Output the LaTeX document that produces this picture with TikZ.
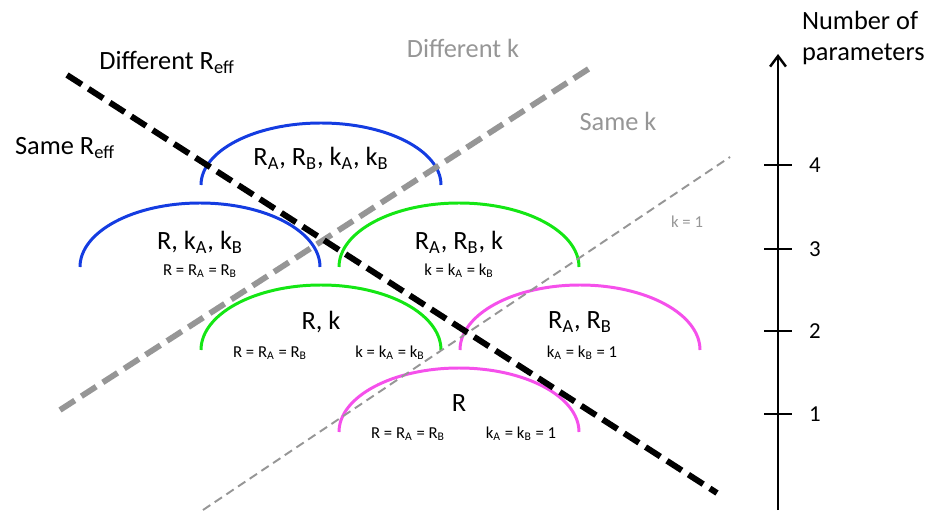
\documentclass[tikz,border=0pt]{standalone}
\usepackage{fontspec}
\setmainfont{Carlito}
\usetikzlibrary{arrows.meta}
\definecolor{arcblue}{RGB}{20,60,225}
\definecolor{arcgreen}{RGB}{20,230,20}
\definecolor{arcpink}{RGB}{245,80,235}
\definecolor{linegray}{RGB}{150,150,150}
\tikzset{
  bigtxt/.style={font=\fontsize{15}{18}\selectfont, inner sep=1pt},
  smalltxt/.style={font=\fontsize{9.5}{11}\selectfont, inner sep=1pt},
  axisnum/.style={font=\fontsize{13}{15}\selectfont, inner sep=1pt},
  levelarc/.style={line width=1.7pt},
}
\begin{document}
\begin{tikzpicture}[x=0.02cm,y=-0.02cm]
  \useasboundingbox (0,0) rectangle (926,513);
  % Arcs (one per model)
  \draw[levelarc,arcblue]  (201,185) arc[start angle=180,end angle=360,x radius=120,y radius=62];
  \draw[levelarc,arcblue]  (80,267)  arc[start angle=180,end angle=360,x radius=120,y radius=64];
  \draw[levelarc,arcgreen] (339,267) arc[start angle=180,end angle=360,x radius=120,y radius=64];
  \draw[levelarc,arcgreen] (201,350) arc[start angle=180,end angle=360,x radius=120,y radius=65];
  \draw[levelarc,arcpink]  (460,350) arc[start angle=180,end angle=360,x radius=120,y radius=65];
  \draw[levelarc,arcpink]  (339,432) arc[start angle=180,end angle=360,x radius=120,y radius=64];
  % Dividing lines
  \coordinate (reffA) at (67,75);
  \coordinate (reffB) at (717,493);
  \coordinate (kA) at (60,410);
  \coordinate (kB) at (590,68);
  \coordinate (koneA) at (203,510);
  \coordinate (koneB) at (730,157);
  \draw[linegray,line width=3.3pt,dash pattern=on 10pt off 4.5pt] (kA) -- (kB);
  \draw[linegray,line width=1.1pt,dash pattern=on 5pt off 3pt] (koneA) -- (koneB);
  \draw[black,line width=3.4pt,dash pattern=on 10pt off 4.5pt] (reffA) -- (reffB);
  % Region labels
  \node[bigtxt] (diffReff) at (167,62) {Different R\textsubscript{eff}};
  \node[bigtxt] (sameReff) at (65,148) {Same R\textsubscript{eff}};
  \node[bigtxt,linegray] (diffK) at (463,48) {Different k};
  \node[bigtxt,linegray] (sameK) at (618,121) {Same k};
  \node[smalltxt,linegray] (kOne) at (687,222) {k = 1};
  % Model labels
  \node[bigtxt] (mFour) at (321,158) {R\textsubscript{A}, R\textsubscript{B}, k\textsubscript{A}, k\textsubscript{B}};
  \node[bigtxt] (mThreeL) at (200,242) {R, k\textsubscript{A}, k\textsubscript{B}};
  \node[smalltxt] (mThreeLeq) at (200,271) {R = R\textsubscript{A} = R\textsubscript{B}};
  \node[bigtxt] (mThreeR) at (459,242) {R\textsubscript{A}, R\textsubscript{B}, k};
  \node[smalltxt] (mThreeReq) at (459,271) {k = k\textsubscript{A} = k\textsubscript{B}};
  \node[bigtxt] (mTwoL) at (321,322) {R, k};
  \node[smalltxt] (mTwoLeqR) at (270,353) {R = R\textsubscript{A} = R\textsubscript{B}};
  \node[smalltxt] (mTwoLeqk) at (390,353) {k = k\textsubscript{A} = k\textsubscript{B}};
  \node[bigtxt] (mTwoR) at (580,322) {R\textsubscript{A}, R\textsubscript{B}};
  \node[smalltxt] (mTwoReq) at (582,353) {k\textsubscript{A} = k\textsubscript{B} = 1};
  \node[bigtxt] (mOne) at (459,403) {R};
  \node[smalltxt] (mOneeqR) at (408,434) {R = R\textsubscript{A} = R\textsubscript{B}};
  \node[smalltxt] (mOneeqk) at (521,434) {k\textsubscript{A} = k\textsubscript{B} = 1};
  % Axis
  \coordinate (axisBot) at (778,510);
  \coordinate (axisTop) at (778,54);
  \draw[line width=1.4pt,-{Straight Barb[length=6pt,width=9pt,line width=1.4pt]}] (axisBot) -- (axisTop);
  \foreach \n/\y in {1/414,2/331,3/249,4/165} {
    \draw[line width=1.4pt] (764,\y) -- (792,\y);
    \node[axisnum,anchor=west] (tick\n) at (807,\y) {\n};
  }
  \node[bigtxt,align=left,anchor=west] (axisTitle) at (800,38) {Number of\\parameters};
\end{tikzpicture}
\end{document}
